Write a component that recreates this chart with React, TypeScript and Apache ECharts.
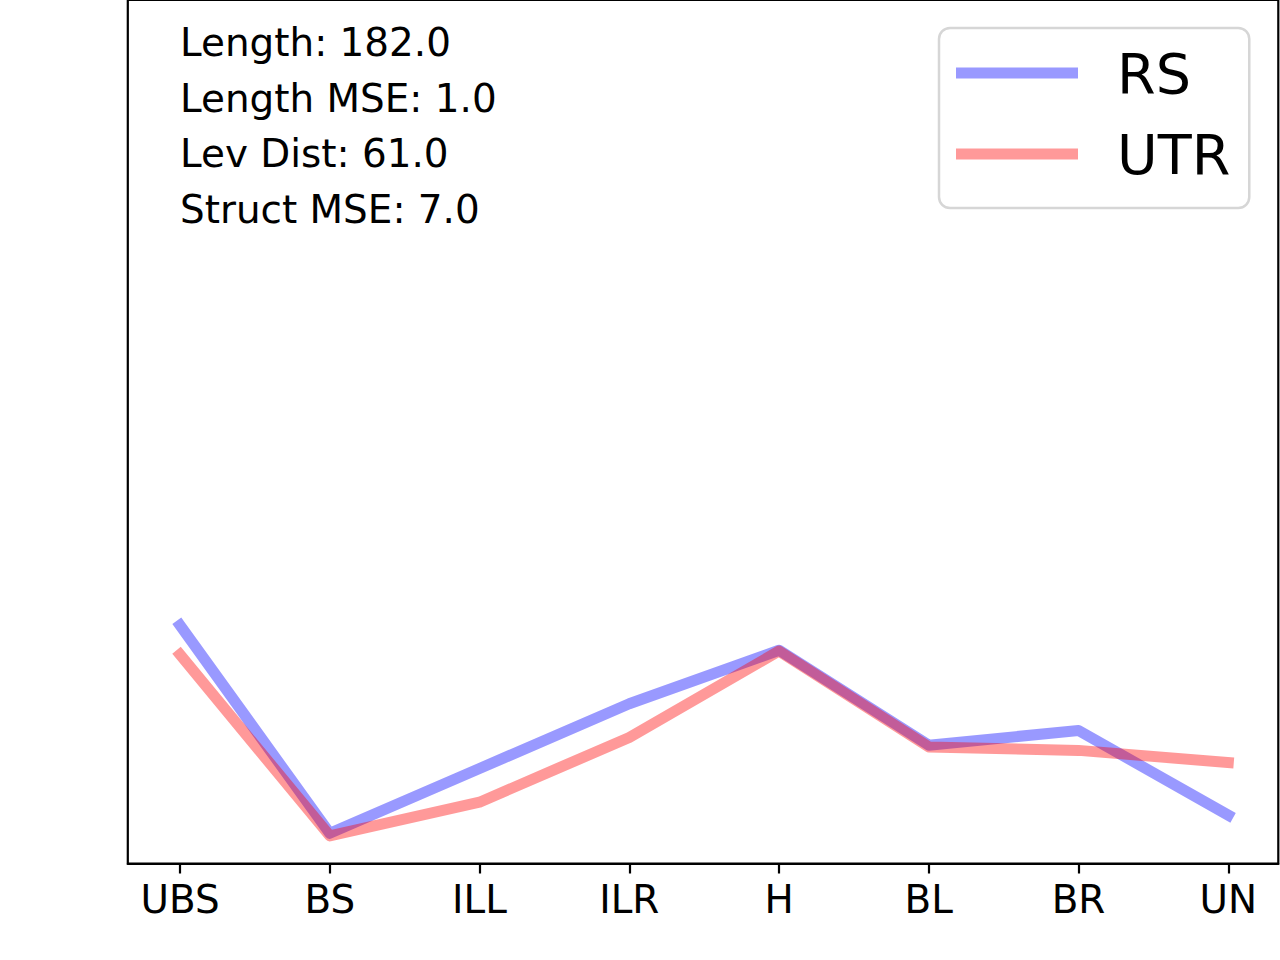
import { useEffect, useRef } from "react";
import * as echarts from "echarts";

// categories along the x axis
const categories = ["UBS", "BS", "ILL", "ILR", "H", "BL", "BR", "UN"];

// series values (y axis runs 0..100)
const rsValues = [27.6, 3.5, 11.0, 18.5, 24.7, 13.7, 15.4, 5.6];
const utrValues = [24.2, 3.2, 7.1, 14.6, 24.6, 13.5, 13.1, 11.7];

// stats box text
const statLines = [
  "Length: 182.0",
  "Length MSE: 1.0",
  "Lev Dist: 61.0",
  "Struct MSE: 7.0",
];

const FONT = "DejaVu Sans";

export default function App() {
  const chartRef = useRef<HTMLDivElement>(null);

  useEffect(() => {
    if (!chartRef.current) return;
    const chart = echarts.init(chartRef.current, null, { renderer: "svg" });
    const ticks = categories.map((_, i) => i);

    chart.setOption({
      animation: false,
      backgroundColor: "#fff",
      grid: {
        left: 127.8,
        right: 1.7,
        top: 0,
        bottom: 96.5,
        show: true,
        borderColor: "#000",
        borderWidth: 2.2,
        backgroundColor: "transparent",
      },
      legend: {
        orient: "vertical",
        left: 939,
        top: 28,
        icon: "rect",
        itemWidth: 122,
        itemHeight: 11,
        itemGap: 25,
        padding: [17, 19, 26, 17],
        borderColor: "#d6d6d6",
        borderWidth: 2.5,
        borderRadius: 11,
        backgroundColor: "rgba(255,255,255,0.8)",
        textStyle: {
          fontFamily: FONT,
          fontSize: 55.6,
          lineHeight: 56,
          color: "#000",
          padding: [0, 0, 0, 34],
        },
        data: ["RS", "UTR"],
      },
      xAxis: {
        type: "value",
        min: -0.3486,
        max: 7.334,
        axisLine: { show: true, lineStyle: { color: "#000", width: 2.2 } },
        axisTick: {
          show: true,
          customValues: ticks,
          length: 10,
          lineStyle: { color: "#000", width: 2.2 },
        },
        axisLabel: {
          customValues: ticks,
          formatter: (v: number) => categories[Math.round(v)] ?? "",
          margin: 16,
          fontFamily: FONT,
          fontSize: 38.9,
          color: "#000",
        },
        splitLine: { show: false },
      },
      yAxis: {
        type: "value",
        min: 0,
        max: 100,
        axisLine: { show: false },
        axisTick: { show: false },
        axisLabel: { show: false },
        splitLine: { show: false },
      },
      graphic: [
        {
          type: "text",
          left: 180,
          top: 15,
          style: {
            text: statLines.join("\n"),
            fontFamily: FONT,
            fontSize: 38.9,
            lineHeight: 55.5,
            fill: "#000",
          },
        },
      ],
      series: [
        {
          name: "RS",
          type: "line",
          data: rsValues.map((v, i) => [i, v]),
          symbol: "none",
          color: "rgba(0,0,255,0.4)",
          lineStyle: { width: 11, color: "rgba(0,0,255,0.4)", cap: "square", join: "round" },
          emphasis: { disabled: true },
        },
        {
          name: "UTR",
          type: "line",
          data: utrValues.map((v, i) => [i, v]),
          symbol: "none",
          color: "rgba(255,0,0,0.4)",
          lineStyle: { width: 11, color: "rgba(255,0,0,0.4)", cap: "square", join: "round" },
          emphasis: { disabled: true },
        },
      ],
    });

    return () => chart.dispose();
  }, []);

  return (
    <div
      ref={chartRef}
      style={{ position: "absolute", left: 0, top: 0, width: 1280, height: 960 }}
    />
  );
}
